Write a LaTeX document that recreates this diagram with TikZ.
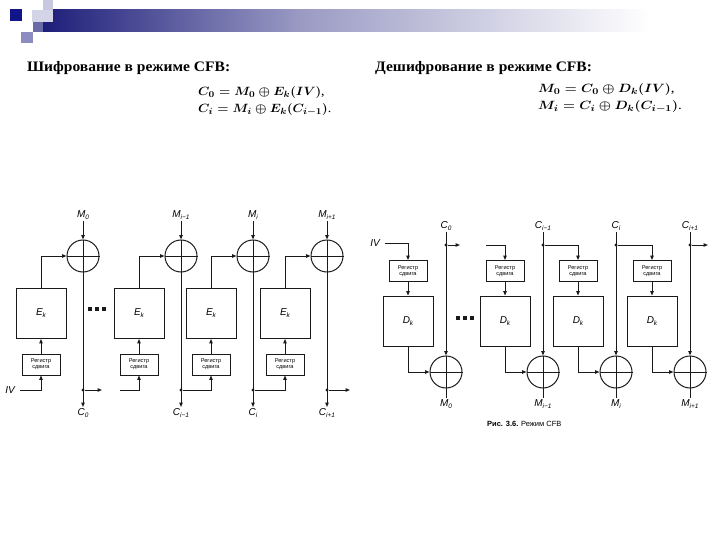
\documentclass[tikz,border=0pt]{standalone}
\usepackage{fontspec}
\setmainfont{Liberation Serif}
\setsansfont{Liberation Sans}
\usetikzlibrary{arrows.meta}
\newcommand{\lbl}[2]{#1\raisebox{-2pt}{\fontsize{6.5}{6.5}\selectfont #2}}
\definecolor{navy}{HTML}{1E1E7A}
\definecolor{midb}{HTML}{9A9AC4}
\definecolor{paleA}{HTML}{C8C8E0}
\definecolor{paleB}{HTML}{D4D4E8}
\definecolor{darkq}{HTML}{14148A}
\definecolor{medq}{HTML}{8C8CC0}
\definecolor{medr}{HTML}{6A6AA8}
\definecolor{ink}{HTML}{1A1A1A}
\begin{document}
\begin{tikzpicture}[x=1pt,y=-1pt,
  lab/.style={font=\sffamily\itshape\fontsize{10}{10}\selectfont, inner sep=1pt},
  reg/.style={draw=ink, line width=0.9pt, minimum width=38pt, minimum height=21pt, inner sep=0pt, align=center, font=\sffamily\fontsize{5.6}{6.2}\selectfont},
  ebox/.style={draw=ink, line width=0.9pt, minimum width=50pt, minimum height=50pt, inner sep=0pt, font=\sffamily\itshape\fontsize{10}{10}\selectfont},
  xor/.style={draw=ink, circle, line width=1pt, minimum size=32pt, inner sep=0pt},
  arr/.style={draw=ink, -{Triangle[length=4.5pt,width=3.5pt]}, line width=1pt},
  ln/.style={draw=ink, line width=1pt},
  pt/.style={circle, fill=ink, inner sep=0pt, minimum size=3.2pt},
  dotsq/.style={fill=ink, minimum size=3.2pt, inner sep=0pt},
  title/.style={anchor=base west, font=\bfseries\fontsize{14.5}{14.5}\selectfont, inner sep=0pt},
  formula/.style={anchor=base west, font=\boldmath\fontsize{13}{13}\selectfont, inner sep=0pt}]
\fill[white] (0,0) rectangle (720,540);
\useasboundingbox (0,0) rectangle (720,540);
% banner
\shade[left color=navy, right color=midb] (43,10) rectangle (300,32);
\shade[left color=midb, right color=white] (299.5,10) rectangle (650,32);
\fill[medr] (33,22) rectangle (43,32);
\fill[paleA] (43,0) rectangle (53,22);
\fill[paleB] (32,10) rectangle (53,22);
\fill[darkq] (10,9) rectangle (22,21);
\fill[medq] (21,32) rectangle (33,43);
% titles and formulas
\node[title] (t1) at (27,72) {\scalebox{1.07}[1]{Шифрование в режиме CFB:}};
\node[formula] (f1) at (198,96) {\scalebox{1.07}[1]{$C_0 = M_0 \oplus E_k(IV)$,}};
\node[formula] (f2) at (198,113) {\scalebox{1.07}[1]{$C_i = M_i \oplus E_k(C_{i-1})$.}};
\node[title] (t2) at (375,72) {\scalebox{1.07}[1]{Дешифрование в режиме CFB:}};
\node[formula] (f3) at (538,93) {\scalebox{1.14}[1]{$M_0 = C_0 \oplus D_k(IV)$,}};
\node[formula] (f4) at (538,110) {\scalebox{1.14}[1]{$M_i = C_i \oplus D_k(C_{i-1})$.}};
% ---------------- encryption ----------------
\foreach \c [count=\n] in {83,181,253,327} {
  \node[xor] (ex\n) at (\c,256) {};
  \draw[ln] (ex\n.west) -- (ex\n.east);
  \coordinate (et\n) at (\c,221);
  \coordinate (eb\n) at (\c,407);
  \draw[arr] (et\n) -- (ex\n.north);
  \draw[arr] (ex\n.north) -- (eb\n);
  \node[pt] (ed\n) at (\c,390) {};
  \node[ebox] (ek\n) at (\c-42,313.5) {\lbl{E}{k}};
  \node[reg] (er\n) at (\c-42,364.5) {Регистр\\сдвига};
  \draw[arr] (er\n) -- (ek\n);
  \draw[arr] (ek\n.north) |- (ex\n.west);
}
\node[lab] (iv1) at (10,390) {IV};
\draw[arr] ([xshift=4pt]iv1.east) -| (er1.south);
\coordinate (e2in) at (120,390);
\draw[arr] (e2in) -| (er2.south);
\draw[arr] (ed2) -| (er3.south);
\draw[arr] (ed3) -| (er4.south);
\coordinate (eo1) at (102,390);
\draw[arr] (ed1) -- (eo1);
\coordinate (eo4) at (350,390);
\draw[arr] (ed4) -- (eo4);
\node[dotsq] (edA) at (90,309) {};
\node[dotsq] (edB) at (97,309) {};
\node[dotsq] (edC) at (104,309) {};
\node[lab, anchor=south] (m1) at (et1) {\lbl{M}{0}};
\node[lab, anchor=south] (m2) at (et2) {\lbl{M}{\textit{i}−1}};
\node[lab, anchor=south] (m3) at (et3) {\lbl{M}{\textit{i}}};
\node[lab, anchor=south] (m4) at (et4) {\lbl{M}{\textit{i}+1}};
\node[lab, anchor=north] (c1) at (eb1) {\lbl{C}{0}};
\node[lab, anchor=north] (c2) at (eb2) {\lbl{C}{\textit{i}−1}};
\node[lab, anchor=north] (c3) at (eb3) {\lbl{C}{\textit{i}}};
\node[lab, anchor=north] (c4) at (eb4) {\lbl{C}{\textit{i}+1}};
% ---------------- decryption ----------------
\foreach \c [count=\n] in {446,543,616,690} {
  \node[xor] (dx\n) at (\c,372) {};
  \draw[ln] (dx\n.west) -- (dx\n.east);
  \coordinate (dt\n) at (\c,232);
  \coordinate (db\n) at (\c,398);
  \draw[arr] (dt\n) -- (dx\n.north);
  \draw[ln] (dx\n.north) -- (db\n);
  \node[pt] (dd\n) at (\c,245) {};
  \node[reg] (dr\n) at (\c-38,271) {Регистр\\сдвига};
  \node[ebox] (dk\n) at (\c-38,321) {\lbl{D}{k}};
  \draw[arr] (dr\n) -- (dk\n);
  \draw[arr] (dk\n.south) |- (dx\n.west);
}
\node[lab] (iv2) at (375,243) {IV};
\draw[arr] ([xshift=4pt]iv2.east) -| (dr1.north);
\coordinate (d2in) at (486,245);
\draw[arr] (d2in) -| (dr2.north);
\draw[arr] (dd2) -| (dr3.north);
\draw[arr] (dd3) -| (dr4.north);
\coordinate (do1) at (460,245);
\draw[arr] (dd1) -- (do1);
\coordinate (do4) at (708,245);
\draw[arr] (dd4) -- (do4);
\node[dotsq] (ddA) at (458,318) {};
\node[dotsq] (ddB) at (465,318) {};
\node[dotsq] (ddC) at (472,318) {};
\node[lab, anchor=south] (dc1) at (dt1) {\lbl{C}{0}};
\node[lab, anchor=south] (dc2) at (dt2) {\lbl{C}{\textit{i}−1}};
\node[lab, anchor=south] (dc3) at (dt3) {\lbl{C}{\textit{i}}};
\node[lab, anchor=south] (dc4) at (dt4) {\lbl{C}{\textit{i}+1}};
\node[lab, anchor=north] (dm1) at (db1) {\lbl{M}{0}};
\node[lab, anchor=north] (dm2) at (db2) {\lbl{M}{\textit{i}−1}};
\node[lab, anchor=north] (dm3) at (db3) {\lbl{M}{\textit{i}}};
\node[lab, anchor=north] (dm4) at (db4) {\lbl{M}{\textit{i}+1}};
\node[anchor=west, inner sep=0pt, font=\sffamily\fontsize{7.5}{8}\selectfont] (cap) at (487,424) {\textbf{Рис. 3.6.} Режим CFB};
\end{tikzpicture}
\end{document}
